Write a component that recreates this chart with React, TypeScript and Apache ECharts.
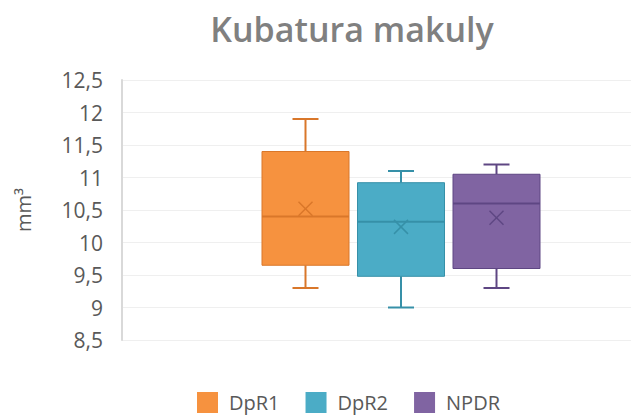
import React, { useEffect, useRef } from "react";
import * as echarts from "echarts";

const categories = ["DpR1", "DpR2", "NPDR"];
const minValues = [9.3, 9.0, 9.3];
const q1Values = [9.65, 9.48, 9.6];
const medianValues = [10.4, 10.32, 10.6];
const q3Values = [11.4, 10.92, 11.05];
const maxValues = [11.9, 11.1, 11.2];
const meanValues = [10.52, 10.24, 10.38];
const yTicks = ["8,5", "9", "9,5", "10", "10,5", "11", "11,5", "12", "12,5"];

const fills = ["#F6923F", "#4BACC6", "#8064A2"];
const darks = ["#D9772A", "#3690A8", "#5E4683"];

const FONT = "'Open Sans', 'Noto Sans', sans-serif";

export default function App() {
  const ref = useRef<HTMLDivElement>(null);
  useEffect(() => {
    if (!ref.current) return;
    const chart = echarts.init(ref.current, null, { renderer: "svg" });
    const BOX_W = 87;
    const STEP = 95.5;
    const CAP_W = 26;
    const SHIFT = 24.5;

    const series = categories.map((name, i) => ({
      name,
      type: "custom",
      itemStyle: { color: fills[i] },
      encode: { x: 0, y: [1, 2, 3, 4, 5, 6] },
      data: [[0, minValues[i], q1Values[i], medianValues[i], q3Values[i], maxValues[i], meanValues[i]]],
      renderItem: (params: any, api: any) => {
        const mn = api.coord([0, api.value(1)]);
        const q1 = api.coord([0, api.value(2)]);
        const md = api.coord([0, api.value(3)]);
        const q3 = api.coord([0, api.value(4)]);
        const mx = api.coord([0, api.value(5)]);
        const me = api.coord([0, api.value(6)]);
        const cx = mn[0] + SHIFT + (i - 1) * STEP;
        const l = cx - BOX_W / 2;
        const r = cx + BOX_W / 2;
        const lineStyle = { stroke: darks[i], lineWidth: 2 };
        const xs = 7;
        return {
          type: "group",
          children: [
            { type: "line", shape: { x1: cx, y1: mx[1], x2: cx, y2: q3[1] }, style: lineStyle },
            { type: "line", shape: { x1: cx - CAP_W / 2, y1: mx[1], x2: cx + CAP_W / 2, y2: mx[1] }, style: lineStyle },
            { type: "line", shape: { x1: cx, y1: mn[1], x2: cx, y2: q1[1] }, style: lineStyle },
            { type: "line", shape: { x1: cx - CAP_W / 2, y1: mn[1], x2: cx + CAP_W / 2, y2: mn[1] }, style: lineStyle },
            {
              type: "rect",
              shape: { x: l, y: q3[1], width: r - l, height: q1[1] - q3[1] },
              style: { fill: fills[i], stroke: darks[i], lineWidth: 1 },
            },
            { type: "line", shape: { x1: l, y1: md[1], x2: r, y2: md[1] }, style: lineStyle },
            { type: "line", shape: { x1: cx - xs, y1: me[1] - xs, x2: cx + xs, y2: me[1] + xs }, style: { stroke: darks[i], lineWidth: 1.5 } },
            { type: "line", shape: { x1: cx - xs, y1: me[1] + xs, x2: cx + xs, y2: me[1] - xs }, style: { stroke: darks[i], lineWidth: 1.5 } },
          ],
        };
      },
    }));

    chart.setOption({
      animation: false,
      backgroundColor: "#ffffff",
      title: {
        text: "Kubatura makuly",
        left: 347,
        top: 7,
        textAlign: "center",
        textStyle: { fontFamily: FONT, fontSize: 34, fontWeight: 600, color: "#808080" },
      },
      legend: {
        bottom: -2,
        left: 192,
        icon: "rect",
        itemWidth: 21,
        itemHeight: 21,
        itemGap: 26,
        data: categories,
        textStyle: { fontFamily: FONT, fontSize: 20, color: "#595959", padding: [0, 0, 0, 6] },
      },
      grid: { left: 122, top: 80, height: 260, right: 0 },
      xAxis: { type: "category", data: [""], show: false },
      yAxis: {
        type: "value",
        min: 8.5,
        max: 12.5,
        interval: 0.5,
        name: "mm³",
        nameLocation: "middle",
        nameRotate: 90,
        nameGap: 89,
        nameTextStyle: { fontFamily: FONT, fontSize: 20, color: "#595959" },
        axisLine: { show: true, lineStyle: { color: "#d9d9d9", width: 2 } },
        axisTick: { show: false },
        axisLabel: {
          margin: 19,
          fontFamily: FONT,
          fontSize: 21,
          color: "#595959",
          formatter: (v: number) => yTicks[Math.round((v - 8.5) / 0.5)] ?? "",
        },
        splitLine: { lineStyle: { color: "#efefef", width: 1 } },
      },
      series,
    });
    return () => chart.dispose();
  }, []);
  return <div ref={ref} style={{ position: "fixed", left: 0, top: 0, width: 631, height: 416 }} />;
}
